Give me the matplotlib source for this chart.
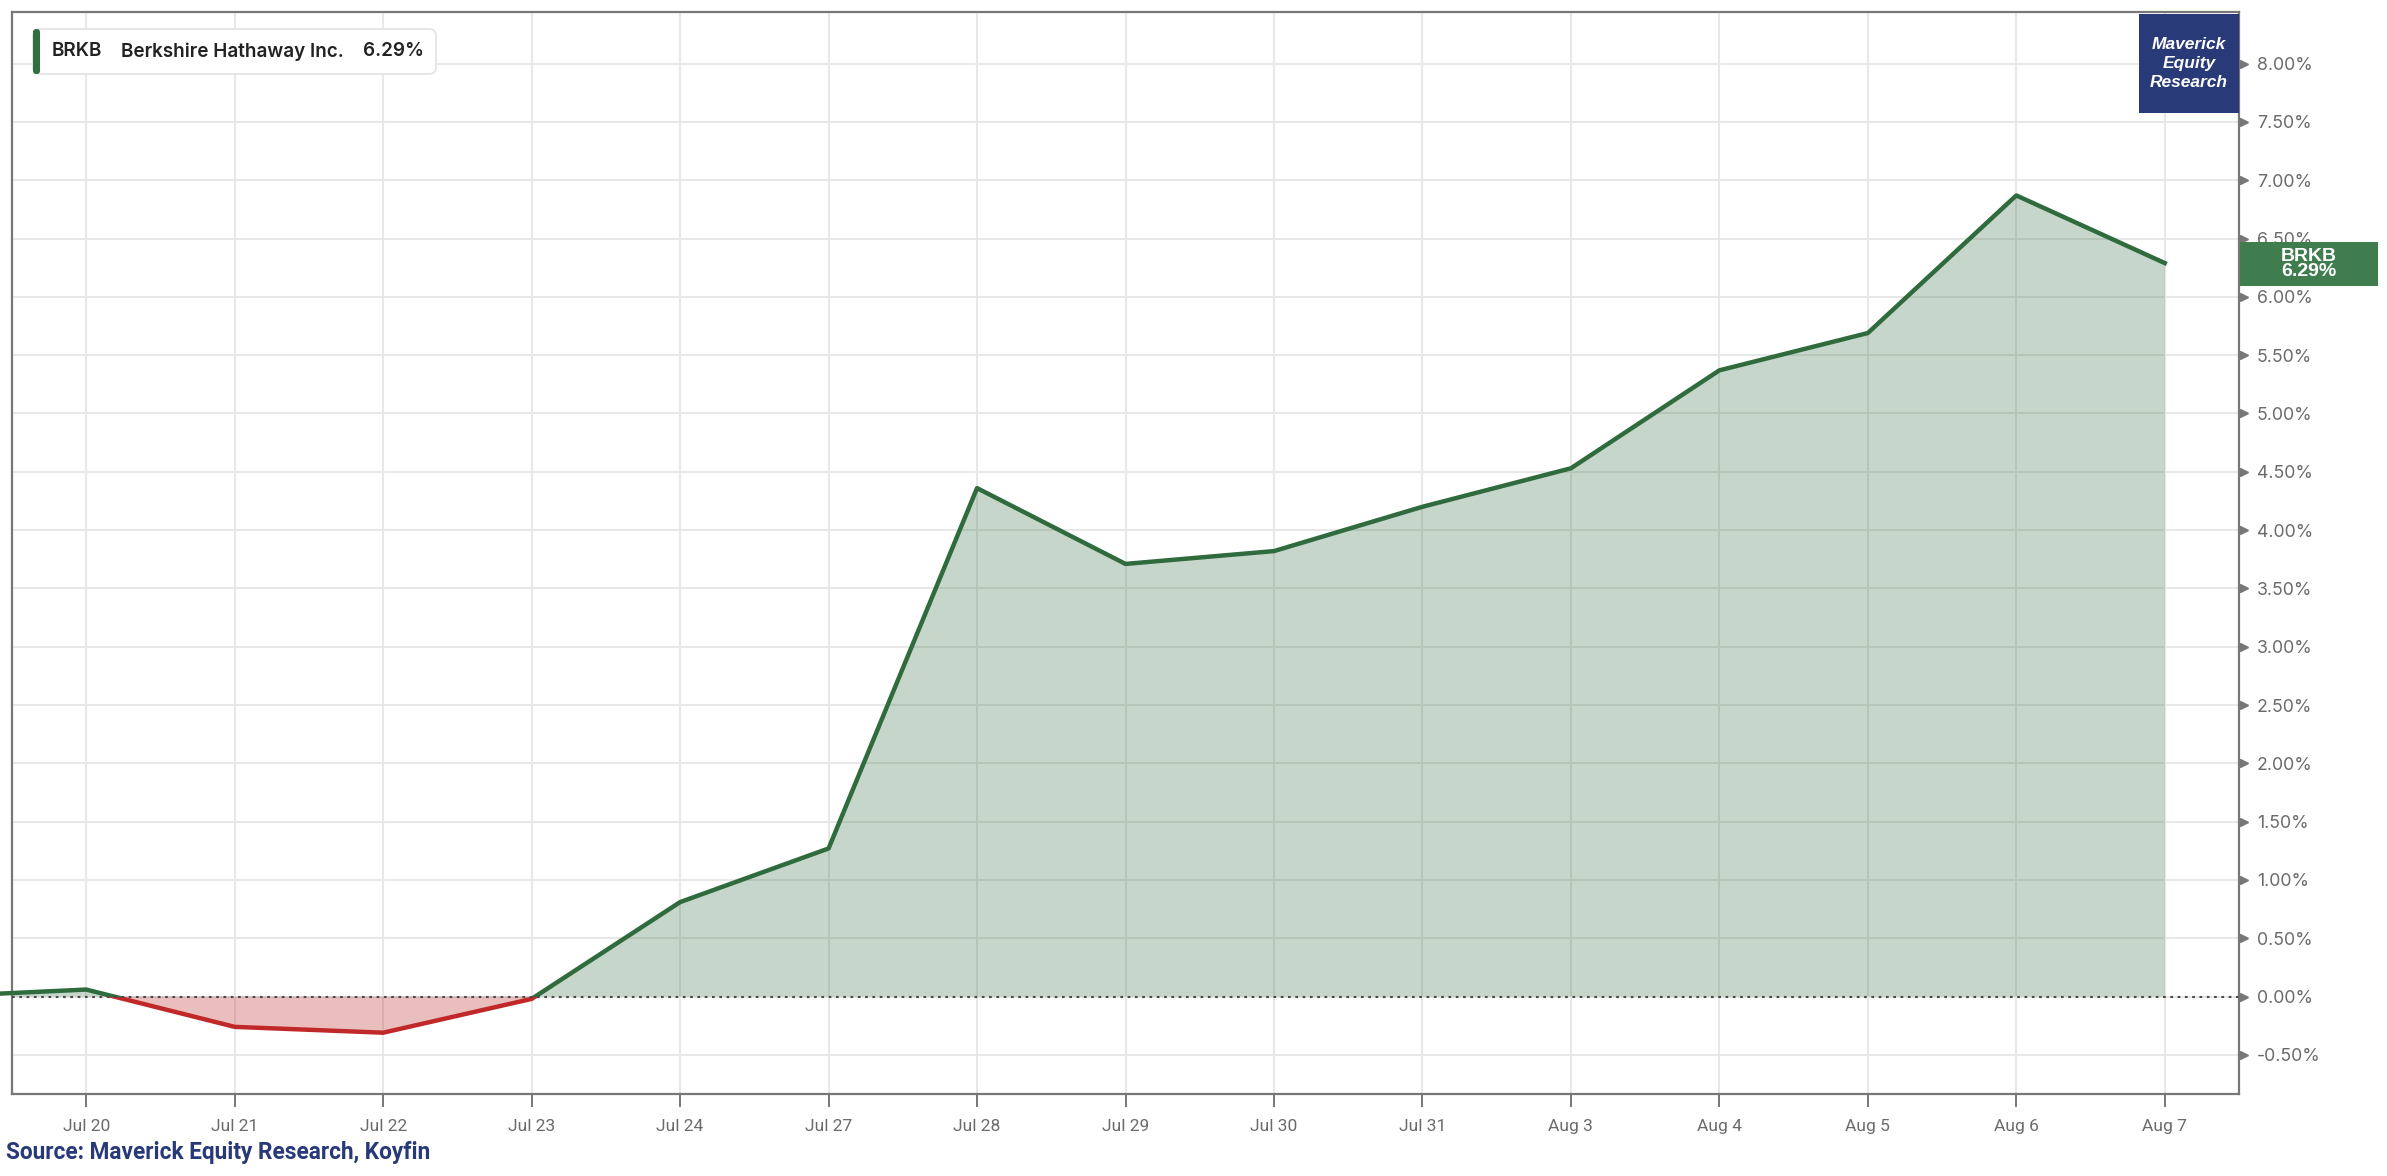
import matplotlib
matplotlib.use("Agg")
import matplotlib.pyplot as plt
import matplotlib.transforms as mtransforms
from matplotlib.patches import FancyBboxPatch, Rectangle
import numpy as np

# ---- data ----
base_label = "Jul 17"
base_value = 0.00
dates = ["Jul 20", "Jul 21", "Jul 22", "Jul 23", "Jul 24", "Jul 27", "Jul 28",
         "Jul 29", "Jul 30", "Jul 31", "Aug 3", "Aug 4", "Aug 5", "Aug 6", "Aug 7"]
values = [0.06, -0.26, -0.31, -0.02, 0.81, 1.27, 4.36,
          3.71, 3.82, 4.20, 4.53, 5.37, 5.69, 6.87, 6.29]
yticks = [-0.5, 0.0, 0.5, 1.0, 1.5, 2.0, 2.5, 3.0, 3.5, 4.0, 4.5, 5.0,
          5.5, 6.0, 6.5, 7.0, 7.5, 8.0]
ticker = "BRKB"
name = "Berkshire Hathaway Inc."
last_value = values[-1]

GREEN = "#2f6b3d"
RED = "#c0282a"
GRAY = "#6b6b6b"

fig = plt.figure(figsize=(23.87, 11.76), dpi=100)
ax = fig.add_axes([0.00503, 0.0697, 0.93297, 0.9201])

x = np.arange(-1, len(dates))
y = np.array([base_value] + values)

ymin, ymax = -0.836, 8.443
ax.set_xlim(-0.5, len(dates) - 0.5)
ax.set_ylim(ymin, ymax)

# grid
for yt in yticks:
    ax.axhline(yt, color="#e8e8e8", lw=1.5, zorder=0)
for i in range(len(dates)):
    ax.axvline(i, color="#e8e8e8", lw=1.5, zorder=0)

# fills
ax.fill_between(x, y, 0, where=y >= 0, interpolate=True, color=GREEN,
                alpha=0.27, lw=0, zorder=1)
ax.fill_between(x, y, 0, where=y <= 0, interpolate=True, color=RED,
                alpha=0.30, lw=0, zorder=1)

# lines, clipped above/below zero
lg, = ax.plot(x, y, color=GREEN, lw=3.2, zorder=3)
lr, = ax.plot(x, y, color=RED, lw=3.2, zorder=3)
up = Rectangle((-5, 0), 50, 50, transform=ax.transData)
dn = Rectangle((-5, -50), 50, 50, transform=ax.transData)
lg.set_clip_path(up)
lr.set_clip_path(dn)

# zero dotted line
ax.axhline(0, color="#4a4a4a", lw=1.5, ls=(0, (1.3, 2.2)), zorder=4)

# spines
for s in ax.spines.values():
    s.set_color("#777777")
    s.set_linewidth(1.6)

# x ticks
ax.set_xticks(range(len(dates)))
ax.set_xticklabels(dates)
ax.tick_params(axis="x", length=9, width=1.4, color="#777777", labelsize=12.5,
               labelcolor=GRAY, pad=9)
for lab in ax.get_xticklabels():
    lab.set_fontfamily("Roboto")

# y ticks on right
ax.yaxis.tick_right()
ax.set_yticks(yticks)
ax.set_yticklabels([f"{v:.2f}%" for v in yticks])
ax.tick_params(axis="y", length=0, labelsize=12.8, labelcolor=GRAY, pad=13)
for lab in ax.get_yticklabels():
    lab.set_fontfamily("Inter")
trans = mtransforms.blended_transform_factory(ax.transAxes, ax.transData)
ax.plot([1.0022] * len(yticks), yticks, ls="none", marker=">", ms=5.5,
        color="#777777", transform=trans, clip_on=False, zorder=5)

# overlay axes in pixel coordinates
fig_w, fig_h = 2387, 1176
ov = fig.add_axes([0, 0, 1, 1], facecolor="none")
ov.set_xlim(0, fig_w)
ov.set_ylim(0, fig_h)
ov.axis("off")

# legend box
lx0, ly0, lw_, lh_ = 33, 1176 - 74, 403, 45
box = FancyBboxPatch((lx0, ly0), lw_, lh_, boxstyle="round,pad=0,rounding_size=7",
                     fc="white", ec="#e4e4e4", lw=1.3, zorder=5)
ov.add_patch(box)
bar = FancyBboxPatch((lx0, ly0), 7, lh_, boxstyle="round,pad=0,rounding_size=3",
                     fc="#336e3f", ec="none", zorder=6)
ov.add_patch(bar)
lkw = dict(fontsize=13.6, fontfamily="Inter", fontweight="semibold",
           color="#222222", va="center", zorder=7)
ov.text(52, ly0 + lh_ / 2, ticker, **lkw)
ov.text(121, ly0 + lh_ / 2, name, **lkw)
ov.text(424, ly0 + lh_ / 2, f"{last_value:.2f}%", ha="right", **lkw)

# logo box
ov.add_patch(Rectangle((2139, 1176 - 113), 100, 99, fc="#283a78",
                       ec="none", zorder=6))
ov.text(2189, 1176 - 63.5, "Maverick\nEquity\nResearch", fontsize=12.5,
        fontfamily="Liberation Sans", fontweight="bold", style="italic",
        color="white", ha="center", va="center", linespacing=1.3, zorder=7)

# right value tag
ov.add_patch(Rectangle((2240, 1176 - 286), 138, 44, fc="#3f7d4f",
                       ec="none", zorder=6))
ov.text(2309, 1176 - 264, f"{ticker}\n{last_value:.2f}%", fontsize=14,
        fontfamily="Liberation Sans", fontweight="bold", color="white",
        ha="center", va="center", linespacing=0.9, zorder=7)

# source text
fig.text(6 / fig_w, 1 - 1152 / fig_h, "Source: Maverick Equity Research, Koyfin",
         fontsize=16.3, fontfamily="Roboto", fontweight="bold", color="#28397a",
         ha="left", va="center")

fig.savefig("out.png", dpi=100)
